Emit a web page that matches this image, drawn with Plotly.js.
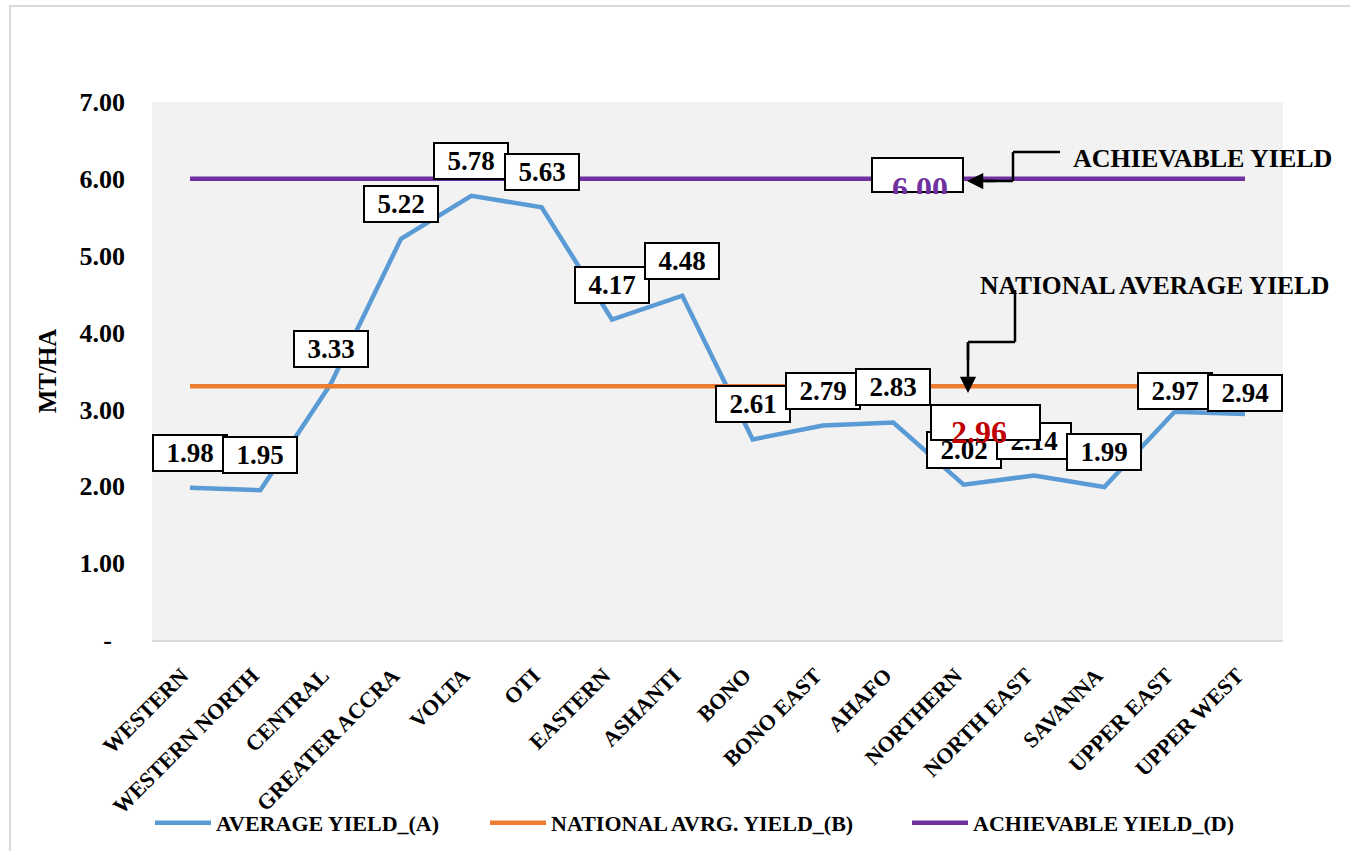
<!DOCTYPE html>
<html>
<head>
<meta charset="utf-8">
<script src="https://cdn.plot.ly/plotly-3.0.1.min.js"></script>
<style>html,body{margin:0;padding:0;background:#fff;}#chart{width:1350px;height:851px;}</style>
</head>
<body>
<div id="chart"></div>
<script>
const regions = ["WESTERN","WESTERN NORTH","CENTRAL","GREATER ACCRA","VOLTA","OTI","EASTERN","ASHANTI","BONO","BONO EAST","AHAFO","NORTHERN","NORTH EAST","SAVANNA","UPPER EAST","UPPER WEST"];
const averageYield = [1.98,1.95,3.33,5.22,5.78,5.63,4.17,4.48,2.61,2.79,2.83,2.02,2.14,1.99,2.97,2.94];
const nationalAvgYield = [3.30,3.30,3.30,3.30,3.30,3.30,3.30,3.30,3.30,3.30,3.30,3.30,3.30,3.30,3.30,3.30];
const achievableYield = [6.00,6.00,6.00,6.00,6.00,6.00,6.00,6.00,6.00,6.00,6.00,6.00,6.00,6.00,6.00,6.00];
const yTickVals = [0,1,2,3,4,5,6,7];
const yTickText = ["-\u00a0\u00a0","1.00","2.00","3.00","4.00","5.00","6.00","7.00"];
const nationalLabel = "2.96";
const achievableLabel = "6.00";

const FONT = "Liberation Serif, Times New Roman, serif";
// pixel -> paper helpers (plot area: x 152..1283, y 102..640)
const L = 152, R = 1283, T = 102, B = 640;
const px = v => (v - L) / (R - L);
const py = v => (B - v) / (B - T);

const traces = [
  {x: regions, y: averageYield, type: "scatter", mode: "lines", name: "AVERAGE YIELD_(A)",
   line: {color: "#5b9bd5", width: 4.5}, legend: "legend"},
  {x: regions, y: nationalAvgYield, type: "scatter", mode: "lines", name: "NATIONAL AVRG. YIELD_(B)",
   line: {color: "#ed7d31", width: 4.5}, legend: "legend2"},
  {x: regions, y: achievableYield, type: "scatter", mode: "lines", name: "ACHIEVABLE YIELD_(D)",
   line: {color: "#7030a0", width: 4.5}, legend: "legend3"}
];

const labelShift = {"UPPER EAST": 21, "UPPER WEST": 21};
const annotations = [];
regions.forEach((r, i) => {
  annotations.push({
    x: r, y: averageYield[i], xref: "x", yref: "y", xanchor: "center", yanchor: "middle",
    text: averageYield[i].toFixed(2), showarrow: false,
    yshift: labelShift[r] !== undefined ? labelShift[r] : 35,
    width: 70, height: 32, borderpad: 1, borderwidth: 2,
    bordercolor: "#000", bgcolor: "#fff",
    font: {family: FONT, size: 27, color: "#000", weight: "bold"}
  });
});
const pa = {xref: "paper", yref: "paper", xanchor: "center", yanchor: "middle", showarrow: false};
// achievable label box
annotations.push(Object.assign({}, pa, {x: px(917.5), y: py(175), text: " ",
  width: 87, height: 30, borderpad: 1, borderwidth: 2, bordercolor: "#000", bgcolor: "#fff",
  font: {family: FONT, size: 25}}));
annotations.push(Object.assign({}, pa, {x: px(920), y: py(188), text: achievableLabel,
  font: {family: FONT, size: 32, color: "#7030a0", weight: "bold"}}));
// cover under the box so the label looks clipped by the box edge
annotations.push(Object.assign({}, pa, {x: px(917.5), y: py(199), text: " ",
  width: 80, height: 10, borderpad: 0, borderwidth: 0, bgcolor: "#f2f2f2",
  font: {family: FONT, size: 6}}));
// national label box
annotations.push(Object.assign({}, pa, {x: px(985.5), y: py(422.5), text: " ",
  width: 105, height: 31, borderpad: 1, borderwidth: 2, bordercolor: "#000", bgcolor: "#fff",
  font: {family: FONT, size: 25}}));
annotations.push(Object.assign({}, pa, {x: px(979), y: py(432), text: nationalLabel,
  font: {family: FONT, size: 32, color: "#c00000", weight: "bold"}}));
// callout texts
annotations.push(Object.assign({}, pa, {x: px(1071), y: py(158), xanchor: "left",
  text: "ACHIEVABLE YIELD", font: {family: FONT, size: 26, color: "#000", weight: "bold"}}));
annotations.push(Object.assign({}, pa, {x: px(978), y: py(285), xanchor: "left",
  text: "NATIONAL AVERAGE YIELD", font: {family: FONT, size: 25.5, color: "#000", weight: "bold"}}));
// arrow heads
annotations.push({x: px(967), y: py(181), xref: "paper", yref: "paper", ax: 30, ay: 0, axref: "pixel", ayref: "pixel",
  text: "", showarrow: true, arrowhead: 2, arrowsize: 1.3, arrowwidth: 2.5, arrowcolor: "#000", standoff: 0});
annotations.push({x: px(968), y: py(393), xref: "paper", yref: "paper", ax: 0, ay: -52, axref: "pixel", ayref: "pixel",
  text: "", showarrow: true, arrowhead: 2, arrowsize: 1.3, arrowwidth: 2.5, arrowcolor: "#000", standoff: 0});

const seg = (x0, y0, x1, y1) => ({type: "line", xref: "paper", yref: "paper",
  x0: px(x0), y0: py(y0), x1: px(x1), y1: py(y1), line: {color: "#000", width: 2.5}});
const shapes = [
  {type: "rect", xref: "paper", yref: "paper", x0: px(10), y0: py(6), x1: px(1365), y1: py(865),
   line: {color: "#d9d9d9", width: 2}, fillcolor: "rgba(0,0,0,0)", layer: "below"},
  seg(1060, 152, 1013, 152), seg(1013, 152, 1013, 181), seg(1013, 181, 985, 181),
  seg(1015, 290, 1015, 342), seg(1015, 342, 968, 342), seg(968, 342, 968, 360)
];

const legFont = {family: FONT, size: 22, color: "#000", weight: "bold"};
const legBase = {orientation: "h", xanchor: "left", yanchor: "middle", yref: "container", xref: "container",
  y: 1 - 823 / 851, font: legFont, bgcolor: "rgba(0,0,0,0)", itemwidth: 56, borderwidth: 0};

const layout = {
  width: 1350, height: 851,
  margin: {l: L, r: 1350 - R, t: T, b: 851 - B, pad: 0, autoexpand: false},
  paper_bgcolor: "#ffffff", plot_bgcolor: "#f2f2f2",
  font: {family: FONT, size: 20, color: "#000", weight: "bold"},
  showlegend: true,
  legend: Object.assign({}, legBase, {x: 150 / 1350}),
  legend2: Object.assign({}, legBase, {x: 485 / 1350}),
  legend3: Object.assign({}, legBase, {x: 907 / 1350}),
  xaxis: {type: "category", tickangle: -45, showgrid: false, zeroline: false,
    showline: true, linecolor: "#d9d9d9", linewidth: 2, ticks: "", ticklabelstandoff: 12, ticklabelshift: -8,
    tickfont: {family: FONT, size: 22, color: "#000", weight: "bold"}, automargin: false},
  yaxis: {range: [0, 7], tickvals: yTickVals, ticktext: yTickText, showgrid: false, zeroline: false,
    showline: false, ticks: "", ticklabelstandoff: 26,
    tickfont: {family: FONT, size: 26, color: "#000", weight: "bold"}, automargin: false,
    title: {text: "MT/HA", standoff: 15, font: {family: FONT, size: 25, color: "#000", weight: "bold"}}},
  annotations: annotations,
  shapes: shapes
};

Plotly.newPlot("chart", traces, layout, {displayModeBar: false, responsive: false});
</script>
</body>
</html>
